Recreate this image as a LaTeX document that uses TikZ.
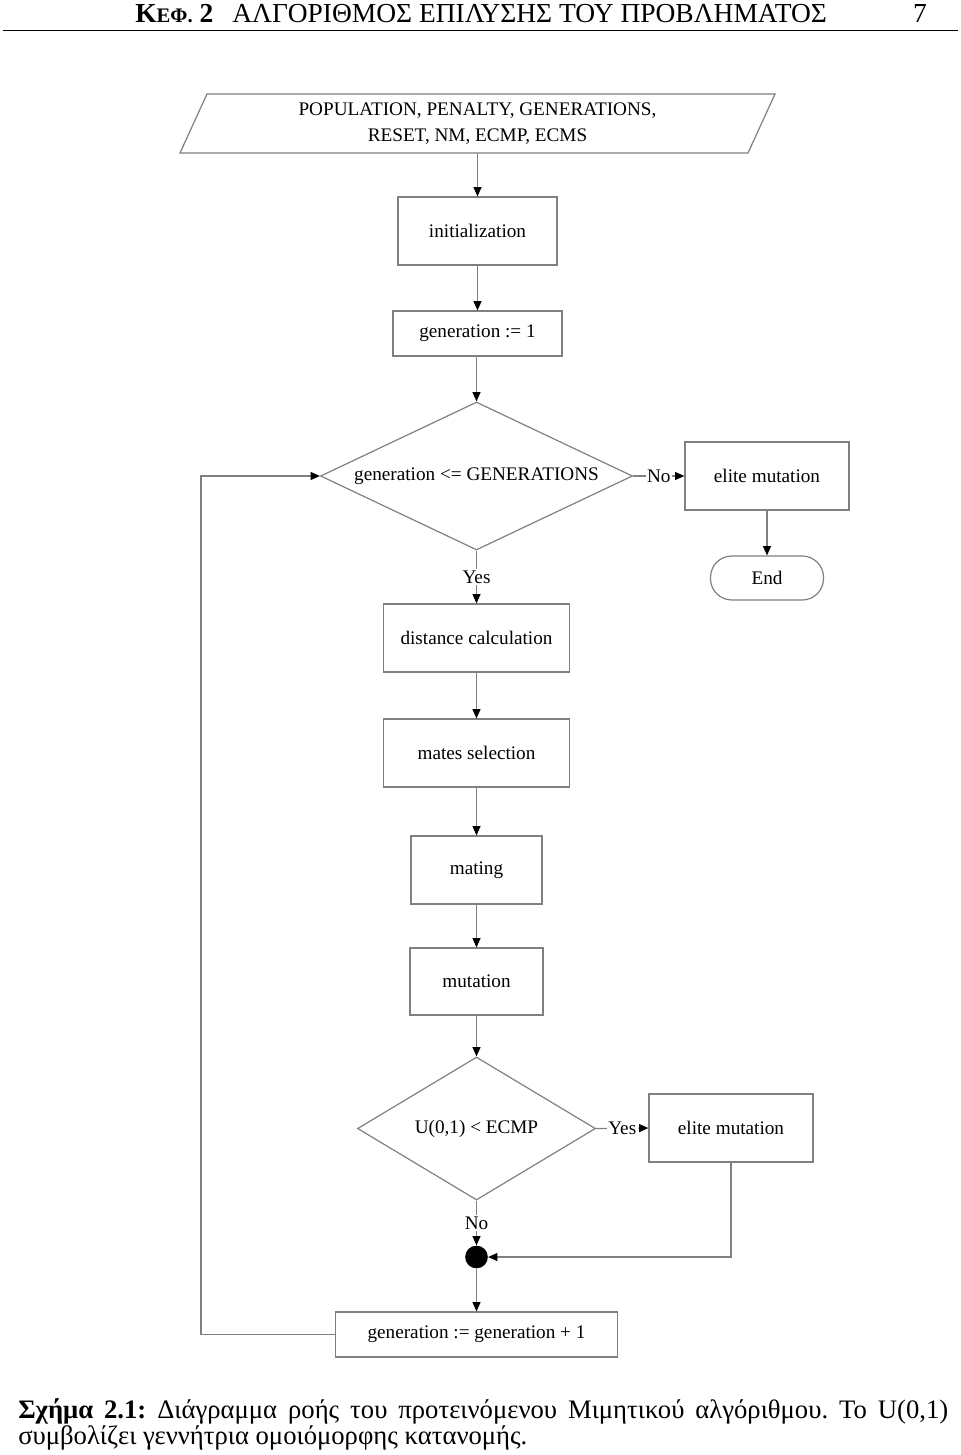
\documentclass[tikz,border=0pt]{standalone}
\usepackage{fontspec}
\setmainfont{Liberation Serif}
\usetikzlibrary{arrows.meta,shapes.geometric}
\definecolor{lg}{RGB}{128,128,128}
\frenchspacing
\newcommand\dfont{\fontsize{14.4}{18}\selectfont}
\newcommand\hfont{\fontsize{20.6}{23}\selectfont}
\newcommand\cfont{\fontsize{20}{24}\selectfont}
\begin{document}
\begin{tikzpicture}[x=0.75pt,y=-0.75pt,
  box/.style={draw=lg, line width=0.9pt, rectangle, inner sep=0, align=center, font=\dfont},
  dia/.style={draw=lg, line width=0.9pt, diamond, inner sep=0, font=\dfont},
  arr/.style={draw=lg, line width=0.9pt, -{Triangle[length=7pt,width=6pt,color=black]}},
  lbl/.style={fill=white, inner sep=1pt, font=\dfont}]
\useasboundingbox (0,0) rectangle (960,1455);
% header
\draw[line width=1.3pt] (3,30.5) -- (958,30.5);
\node[anchor=base west, inner sep=0, font=\hfont] (h1) at (135,23) {\bfseries Κ{\fontsize{15.5}{18}\selectfont ΕΦ.}~2};
\node[anchor=base west, inner sep=0, font=\hfont] (h2) at (232,23) {ΑΛΓΟΡΙΘΜΟΣ ΕΠΙΛΥΣΗΣ ΤΟΥ ΠΡΟΒΛΗΜΑΤΟΣ};
\node[anchor=base east, inner sep=0, font=\hfont] (h3) at (927,23) {7};
% input parallelogram
\draw[draw=lg, line width=0.9pt] (207,94) -- (775,94) -- (748,153) -- (180,153) -- cycle;
\node[inner sep=0, minimum height=44.25pt, align=center, font=\dfont] (inp) at (477.5,123.5) {POPULATION, PENALTY, GENERATIONS,\\[1pt] RESET, NM, ECMP, ECMS};
% nodes
\node[box, minimum width=119.25pt, minimum height=51pt] (init) at (477.5,231) {initialization};
\node[box, minimum width=126.75pt, minimum height=33.75pt] (g1) at (477.5,333.5) {generation := 1};
\node[dia, minimum width=234pt, minimum height=111pt] (d1) at (476.5,476) {\makebox[0pt]{generation <= GENERATIONS}};
\node[box, minimum width=123pt, minimum height=51pt] (em1) at (767,476) {elite mutation};
\node[box, minimum width=84.75pt, minimum height=33pt, rounded corners=16pt] (end) at (767,578) {End};
\node[box, minimum width=139.5pt, minimum height=51pt] (dc) at (476.5,638) {distance calculation};
\node[box, minimum width=139.5pt, minimum height=51pt] (ms) at (476.5,753) {mates selection};
\node[box, minimum width=98.25pt, minimum height=51pt] (mating) at (476.5,870) {mating};
\node[box, minimum width=99.75pt, minimum height=50.25pt] (mut) at (476.5,981.5) {mutation};
\node[dia, minimum width=178.5pt, minimum height=107.25pt] (d2) at (476.5,1128.5) {\makebox[0pt]{U(0,1) < ECMP}};
\node[box, minimum width=123pt, minimum height=51pt] (em2) at (731,1128) {elite mutation};
\node[circle, fill=black, inner sep=0, minimum size=17pt] (dot) at (476.5,1257) {};
\node[box, minimum width=211.5pt, minimum height=33.75pt] (g2) at (476.5,1334.5) {generation := generation + 1};
\coordinate (lp) at (201,1334.5);
% connectors
\draw[arr] (inp.south) -- (init.north);
\draw[arr] (init.south) -- (g1.north);
\draw[arr] (g1.south -| d1.north) -- (d1.north);
\draw[arr] (d1.east) -- node[lbl]{No} (em1.west);
\draw[arr] (em1.south) -- (end.north);
\draw[arr] (d1.south) -- node[lbl]{Yes} (dc.north);
\draw[arr] (dc.south) -- (ms.north);
\draw[arr] (ms.south) -- (mating.north);
\draw[arr] (mating.south) -- (mut.north);
\draw[arr] (mut.south) -- (d2.north);
\draw[arr] (d2.east) -- node[lbl]{Yes} (em2.west);
\draw[arr] (d2.south) -- node[lbl]{No} (dot.north);
\draw[arr] (em2.south) |- (dot.east);
\draw[arr] (dot.south) -- (g2.north);
\draw[arr] (g2.west) -- (lp) |- (d1.west);
% caption
\node[anchor=base west, inner sep=0, font=\cfont] (c1) at (18,1418) {\makebox[697.5pt][s]{\textbf{Σχήμα 2.1:} Διάγραμμα ροής του προτεινόμενου Μιμητικού αλγόριθμου. Το U(0,1)}};
\node[anchor=base west, inner sep=0, font=\cfont] (c2) at (18,1444) {συμβολίζει γεννήτρια ομοιόμορφης κατανομής.};
\end{tikzpicture}
\end{document}
